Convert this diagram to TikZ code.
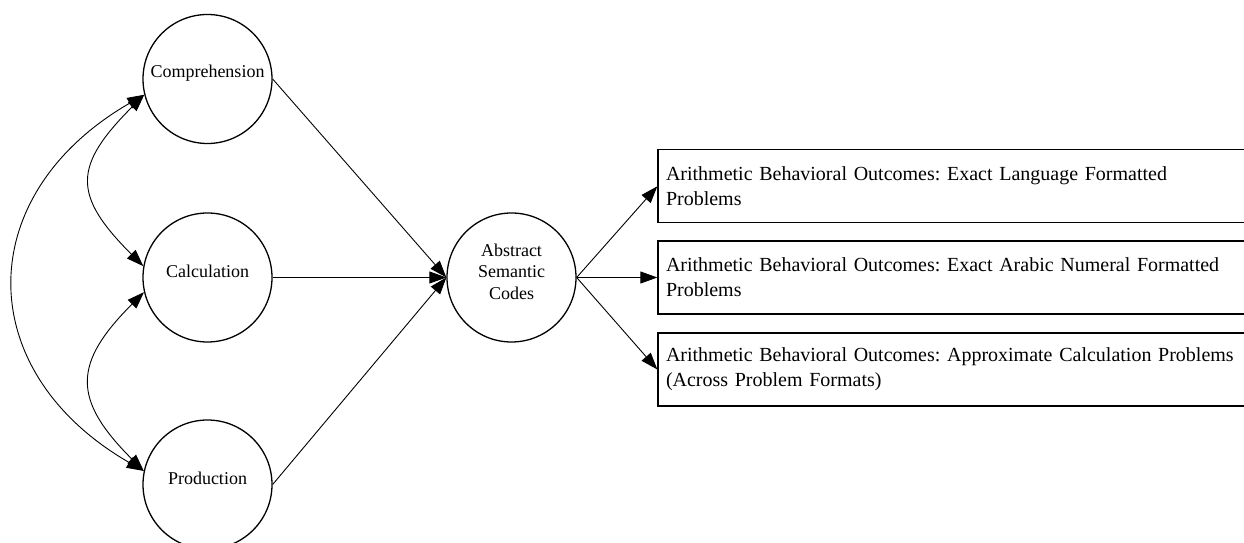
\documentclass[tikz,border=0pt]{standalone}
\usepackage{fontspec}
\setmainfont{Liberation Serif}
\frenchspacing
\usetikzlibrary{arrows.meta}

\begin{document}
\begin{tikzpicture}[x=1pt,y=1pt,>={Triangle[length=17pt,width=12pt]},line width=0.9pt,
                    node distance=198.5pt,
                    main node/.style={circle,draw,line width=1.3pt,minimum size=129pt,inner sep=0pt},
                    outcome node/.style={rectangle,draw,line width=1.3pt,minimum height=73pt,inner xsep=8pt,
                                         text width=620pt,align=left,font=\fontsize{20}{25}\selectfont},
                    every label/.style={font=\fontsize{18}{21.5}\selectfont,align=center,yshift=6pt}]
      \useasboundingbox (0,0) rectangle (1244,543);
      \node[main node,label=center:Comprehension] (comp) at (207.5,464) {};
      \node[main node,label=center:Calculation] (calc) [below of=comp] {};
      \node[main node,label=center:Production] (prod) [below of=calc,node distance=207pt] {};
      \node[main node,label={center:Abstract\\Semantic\\Codes}] (asc) [right of=calc,node distance=304pt] {};
      \node[outcome node] (arab) [right of=asc,node distance=464.5pt]
        {Arithmetic Behavioral Outcomes: Exact Arabic Numeral Formatted\\Problems};
      \node[outcome node] (lang) [above of=arab,node distance=91.2pt]
        {Arithmetic Behavioral Outcomes: Exact Language Formatted\\Problems};
      \node[outcome node] (approx) [below of=arab,node distance=92pt]
        {Arithmetic Behavioral Outcomes: Approximate Calculation Problems\\(Across Problem Formats)};
      \path
        (comp.east) edge [->] (asc.west)
        (calc.east) edge [->] (asc.west)
        (prod.east) edge [->] (asc.west)
        (asc.east) edge [->] (lang.west)
                   edge [->] (arab.west)
                   edge [->] (approx.west)
        (comp.194) edge [<->,out=225,in=135,looseness=1.5] (calc.170)
                   edge [<->,out=210,in=150,looseness=1.36] (prod.168)
        (calc.193) edge [<->,out=225,in=135,looseness=1.45] (prod.168);
\end{tikzpicture}
\end{document}
